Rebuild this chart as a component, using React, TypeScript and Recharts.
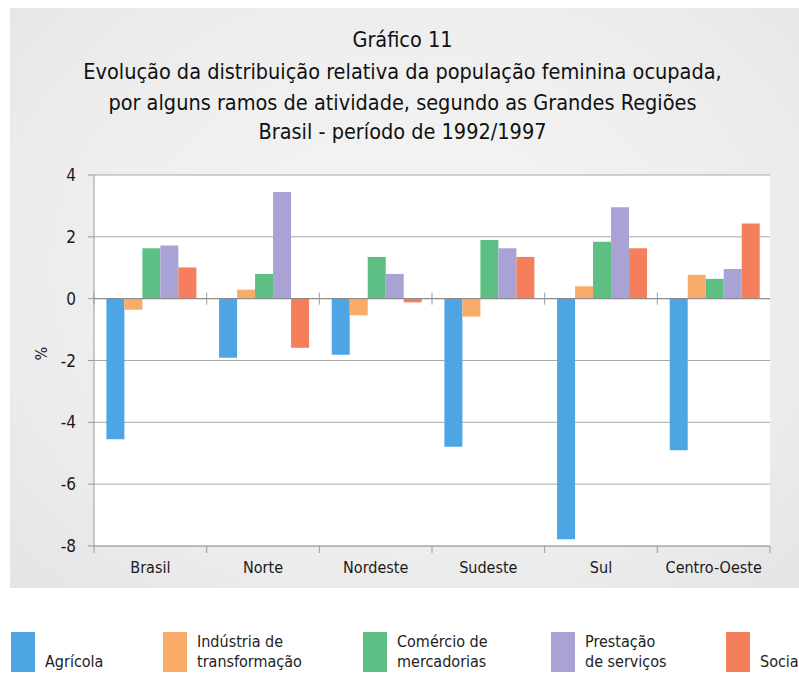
import React from "react";
import { BarChart, Bar, XAxis, YAxis, CartesianGrid, ReferenceLine } from "recharts";

const regions = ["Brasil", "Norte", "Nordeste", "Sudeste", "Sul", "Centro-Oeste"];
const agricola = [-4.55, -1.91, -1.81, -4.79, -7.78, -4.9];
const industria = [-0.36, 0.29, -0.54, -0.58, 0.4, 0.77];
const comercio = [1.63, 0.8, 1.35, 1.9, 1.84, 0.64];
const prestacao = [1.72, 3.45, 0.8, 1.63, 2.96, 0.96];
const social = [1.01, -1.59, -0.12, 1.35, 1.63, 2.43];
const yTicks = [-8, -6, -4, -2, 0, 2, 4];

const series = [
  { key: "agricola", lines: ["", "Agrícola"], color: "#4da6e3", values: agricola },
  { key: "industria", lines: ["Indústria de", "transformação"], color: "#f7ac6a", values: industria },
  { key: "comercio", lines: ["Comércio de", "mercadorias"], color: "#5dbf84", values: comercio },
  { key: "prestacao", lines: ["Prestação", "de serviços"], color: "#a9a2d5", values: prestacao },
  { key: "social", lines: ["", "Social"], color: "#f57f5c", values: social },
];

const data = regions.map((name, i) => {
  const row: Record<string, string | number> = { name };
  series.forEach((s) => (row[s.key] = s.values[i]));
  return row;
});

const FONT = "'Liberation Sans Narrow', 'DejaVu Sans Condensed', 'Liberation Sans', sans-serif";
const TOP = 175;
const LEFT = 94;
const RIGHT = 770;
const BOTTOM = 546;
const BAND = (RIGHT - LEFT) / regions.length;
const ZERO_Y = TOP + ((BOTTOM - TOP) * 4) / 12;
const legendLeft = [11, 163, 363, 551, 726];

const CategoryTick = (props: any) => {
  const { x, y, payload, index } = props;
  const left = x - BAND / 2;
  return (
    <g>
      <line x1={left} x2={left} y1={y - 7} y2={y} stroke="#999" />
      <line x1={left} x2={left} y1={ZERO_Y - 6} y2={ZERO_Y + 6} stroke="#999" />
      {index === regions.length - 1 && (
        <line x1={x + BAND / 2} x2={x + BAND / 2} y1={y - 7} y2={y} stroke="#999" />
      )}
      <text x={x} y={y + 20} textAnchor="middle" fill="#1a1a1a" fontSize={16} fontFamily={FONT}>
        {payload.value}
      </text>
    </g>
  );
};

const titleLine = (text: string, top: number) => (
  <div
    style={{
      position: "absolute",
      top,
      left: 0,
      width: 805,
      textAlign: "center",
      fontFamily: FONT,
      fontSize: 21.5,
      color: "#111",
      lineHeight: "24px",
    }}
  >
    {text}
  </div>
);

export default function App() {
  return (
    <div style={{ position: "absolute", left: 0, top: 0, width: 799, height: 675, background: "#fff", overflow: "hidden" }}>
      <div
        style={{
          position: "absolute",
          left: 10,
          top: 8,
          width: 800,
          height: 580,
          background: "radial-gradient(ellipse at 50% 45%, #f6f6f6 0%, #ececec 70%, #e4e4e4 100%)",
        }}
      />
      {titleLine("Gráfico 11", 28)}
      {titleLine("Evolução da distribuição relativa da população feminina ocupada,", 60)}
      {titleLine("por alguns ramos de atividade, segundo as Grandes Regiões", 91)}
      {titleLine("Brasil - período de 1992/1997", 120)}
      <div style={{ position: "absolute", left: 0, top: 0 }}>
        <BarChart
          width={799}
          height={600}
          data={data}
          margin={{ top: TOP, right: 799 - RIGHT, left: LEFT - 60, bottom: 600 - BOTTOM - 30 }}
          barCategoryGap="11%"
          barGap={0}
        >
          <CartesianGrid vertical={false} stroke="#a8a8a8" fill="#fff" />
          <XAxis
            dataKey="name"
            height={30}
            axisLine={{ stroke: "#a8a8a8" }}
            tickLine={false}
            tickSize={7}
            tickMargin={0}
            tick={<CategoryTick />}
            interval={0}
          />
          <YAxis
            width={60}
            domain={[-8, 4]}
            ticks={yTicks}
            axisLine={{ stroke: "#999" }}
            tickLine={{ stroke: "#999" }}
            tickSize={6}
            tickMargin={12}
            tick={{ fill: "#1a1a1a", fontSize: 17, fontFamily: FONT }}
            label={{ value: "%", angle: -90, position: "insideLeft", offset: 7, fill: "#1a1a1a", fontSize: 16, fontFamily: FONT }}
          />
          <YAxis yAxisId="right" orientation="right" width={0} tick={false} axisLine={{ stroke: "#c8c8c8" }} />
          <ReferenceLine y={0} stroke="#888" />
          {series.map((s) => (
            <Bar key={s.key} dataKey={s.key} fill={s.color} isAnimationActive={false} />
          ))}
        </BarChart>
      </div>
      {series.map((s, i) => (
        <div key={s.key} style={{ position: "absolute", left: legendLeft[i], top: 632, display: "flex", alignItems: "flex-end" }}>
          <div style={{ width: 24, height: 40, background: s.color }} />
          <div style={{ marginLeft: 10, fontFamily: FONT, fontSize: 16, lineHeight: "20px", color: "#222", whiteSpace: "nowrap" }}>
            <div>{s.lines[0] || "\u00a0"}</div>
            <div>{s.lines[1]}</div>
          </div>
        </div>
      ))}
    </div>
  );
}
